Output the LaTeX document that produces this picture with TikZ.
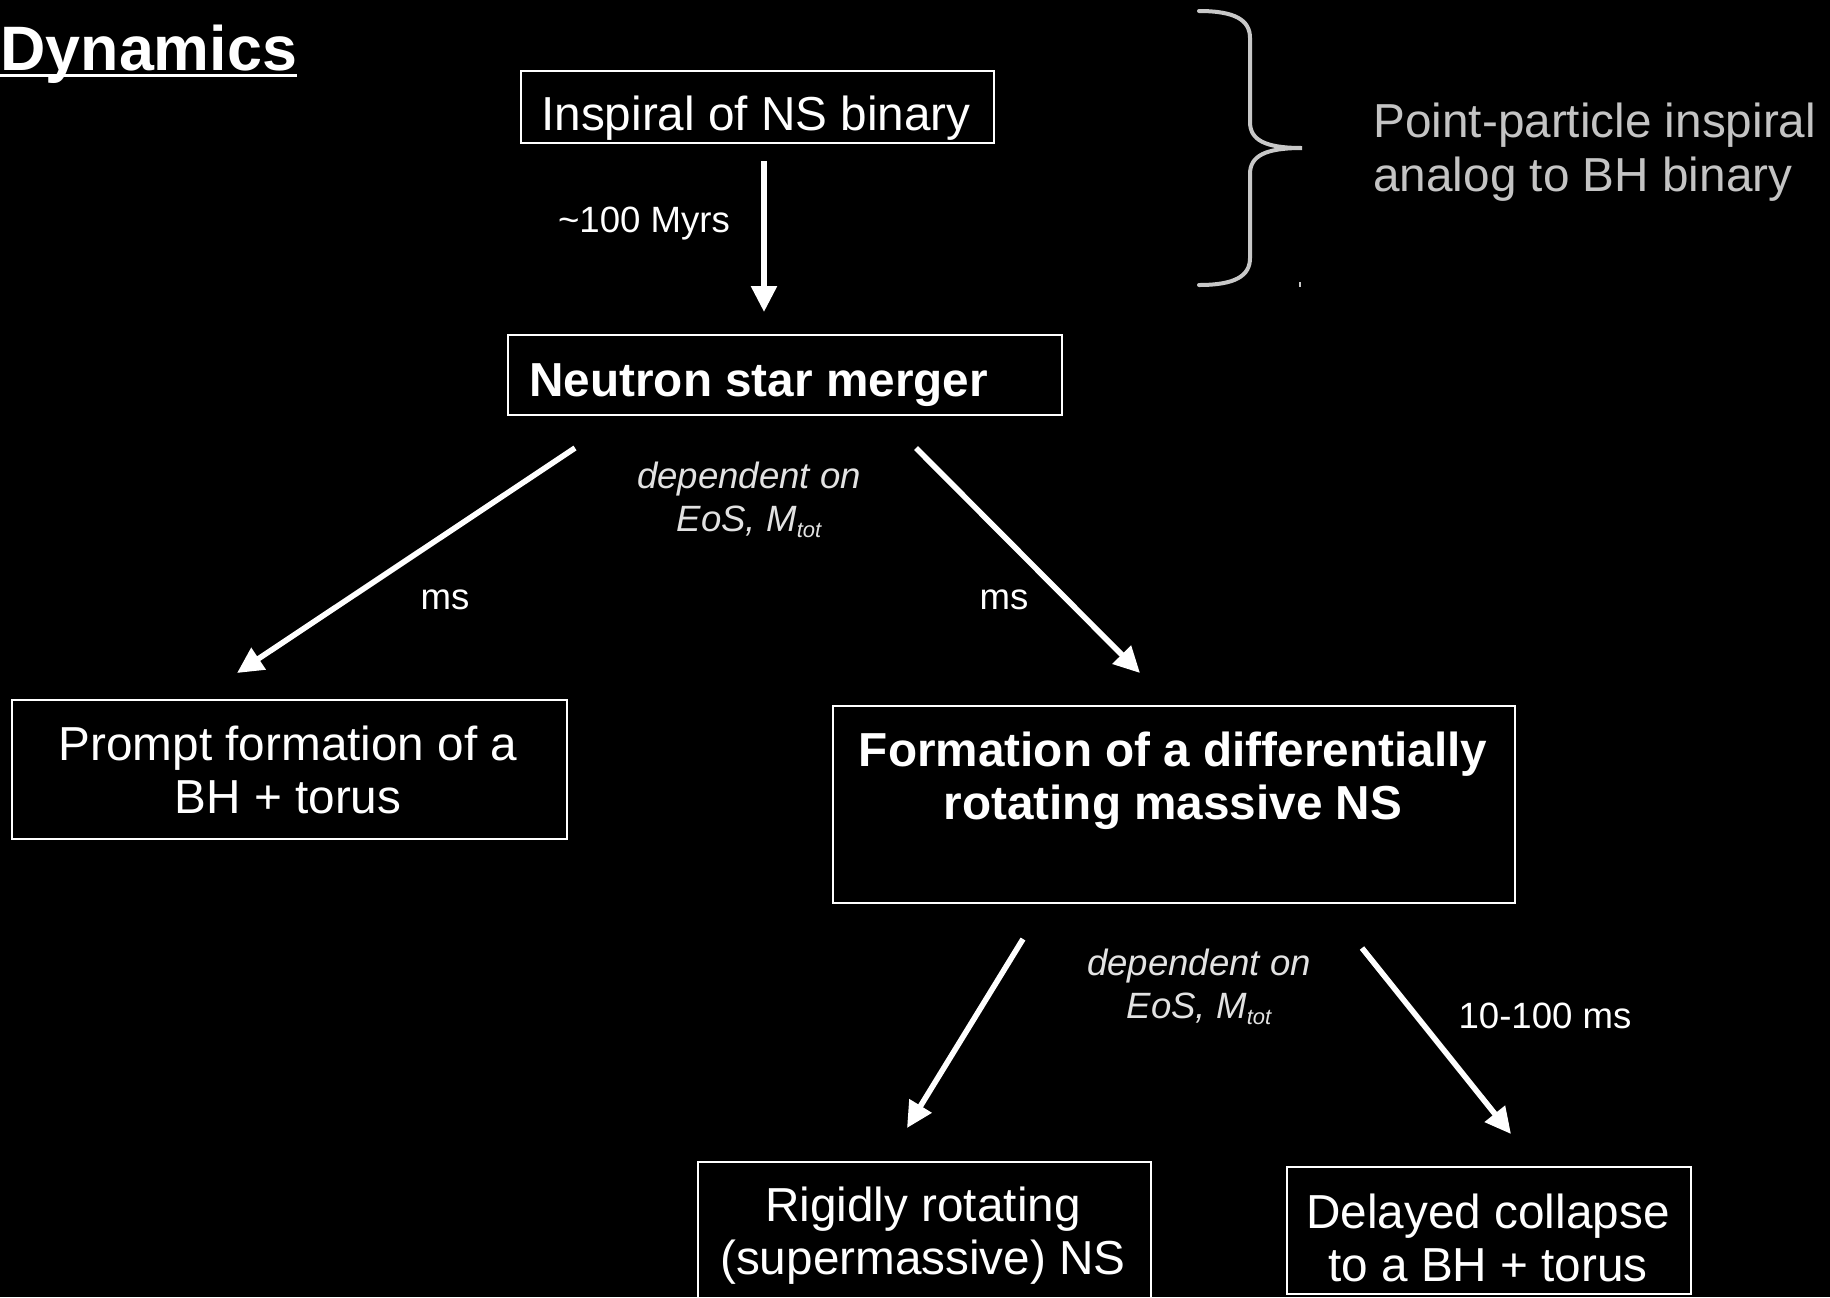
\documentclass[tikz,border=0pt]{standalone}
\usepackage{fontspec}
\setmainfont{Liberation Sans}
\usetikzlibrary{arrows.meta}
\definecolor{notegray}{HTML}{C4C4C4}
\definecolor{labgray}{HTML}{E2E2E2}
\definecolor{bracegray}{HTML}{C8C8C8}
\begin{document}
\begin{tikzpicture}[x=0.5pt,y=-0.5pt,
  box/.style={draw=white,line width=1pt,inner sep=0pt,anchor=north west},
  btext/.style={text=white,inner sep=0pt,align=center,font=\fontsize{23.85}{26.5}\selectfont},
  bbold/.style={btext,font=\fontsize{23.85}{26.5}\selectfont\bfseries},
  lab/.style={text=white,inner sep=0pt,font=\fontsize{18.3}{21.5}\selectfont},
  dep/.style={text=labgray,inner sep=0pt,align=center,font=\fontsize{18.3}{21.5}\selectfont\itshape},
  arr/.style={draw=white,line width=2.8pt,-{Triangle[length=13pt,width=12.5pt]}},
  bracestyle/.style={draw=bracegray,line width=2pt,line cap=round}
]
\fill[black] (0,0) rectangle (1830,1297);
\useasboundingbox (0,0) rectangle (1830,1297);

% title
\node[text=white,inner sep=0pt,anchor=base west,font=\fontsize{31.4}{36}\selectfont\bfseries] (title) at (0,70) {Dynamics};
\draw[white,line width=1.5pt] (title.base west) ++(0,5) -- ++(297,0);

% boxes
\node[box,minimum width=236.5pt,minimum height=36pt] (inspiral) at (520,70) {};
\node[box,minimum width=277pt,minimum height=40pt] (merger) at (507,334) {};
\node[box,minimum width=277.5pt,minimum height=69.5pt] (prompt) at (11,699) {};
\node[box,minimum width=341pt,minimum height=98.5pt] (formation) at (832,705) {};
\node[box,minimum width=226.5pt,minimum height=75pt] (rigid) at (697,1161) {};
\node[box,minimum width=202pt,minimum height=63.5pt] (delayed) at (1286,1166) {};

% box texts
\node[btext] (tinspiral) at (756,118) {Inspiral of NS binary};
\node[bbold,anchor=base west] (tmerger) at (529,396) {Neutron star merger};
\node[btext] (tprompt) at (288,770) {Prompt formation of a\\BH + torus};
\node[bbold] (tformation) at (1173,781) {Formation of a differentially\\rotating massive NS};
\node[btext] (trigid) at (923,1236) {Rigidly rotating\\(supermassive) NS};
\node[btext] (tdelayed) at (1488,1238) {Delayed collapse\\to a BH + torus};

% note with brace
\draw[bracestyle] (1199,11) .. controls (1235,11) and (1250,20) .. (1250,38) -- (1250,122)
  .. controls (1250,140) and (1265,148) .. (1302,148)
  .. controls (1265,148) and (1250,156) .. (1250,174) -- (1250,258)
  .. controls (1250,276) and (1235,285) .. (1199,285);
\draw[bracegray,line width=0.6pt] (1300,282) -- (1300,287);
\node[text=notegray,inner sep=0pt,align=left,anchor=west,font=\fontsize{23.85}{27}\selectfont] (note) at (1373,152) {Point-particle inspiral\\analog to BH binary};

% connectors
\coordinate (a1s) at (764,161); \coordinate (a1e) at (764,312);
\coordinate (a2s) at (575,448); \coordinate (a2e) at (237,673);
\coordinate (a3s) at (916,448); \coordinate (a3e) at (1140,673);
\coordinate (a4s) at (1023,939); \coordinate (a4e) at (907,1128);
\coordinate (a5s) at (1362,948); \coordinate (a5e) at (1511,1134);
\draw[arr] (a1s) -- (a1e);
\draw[arr] (a2s) -- (a2e);
\draw[arr] (a3s) -- (a3e);
\draw[arr] (a4s) -- (a4e);
\draw[arr] (a5s) -- (a5e);

% labels
\node[lab] (l1) at (644,224) {\textasciitilde100 Myrs};
\node[lab] (l2) at (445,600) {ms};
\node[lab] (l3) at (1004,600) {ms};
\node[lab] (l4) at (1545,1016) {10-100 ms};
\node[dep] (d1) at (749,500) {dependent on\\EoS, M\raisebox{-0.3ex}{\fontsize{11}{11}\selectfont tot}};
\node[dep] (d2) at (1199,987) {dependent on\\EoS, M\raisebox{-0.3ex}{\fontsize{11}{11}\selectfont tot}};
\end{tikzpicture}
\end{document}
